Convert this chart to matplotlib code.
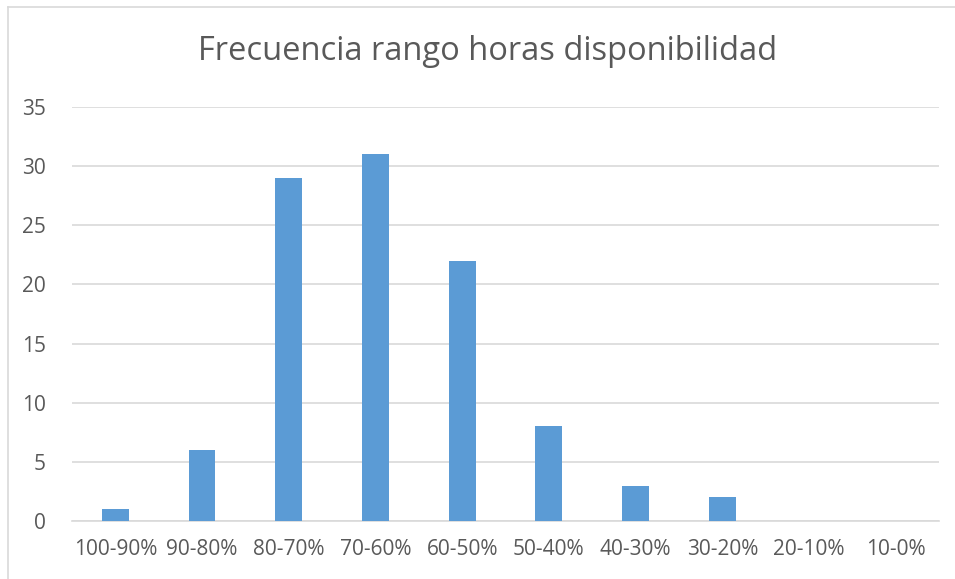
import numpy as np
import matplotlib.pyplot as plt
from matplotlib.lines import Line2D

rangos = ['100-90%', '90-80%', '80-70%', '70-60%', '60-50%',
          '50-40%', '40-30%', '30-20%', '20-10%', '10-0%']
frecuencia = [1, 6, 29, 31, 22, 8, 3, 2, 0, 0]
y_ticks = [0, 5, 10, 15, 20, 25, 30, 35]

plt.rcParams['font.family'] = ['Open Sans', 'DejaVu Sans']

fig = plt.figure(figsize=(9.55, 5.79), dpi=100)
ax = fig.add_axes([72 / 955, 1 - 521 / 579, (939 - 72) / 955, (521 - 107) / 579])

x = np.arange(len(rangos))
ax.bar(x, frecuencia, width=0.31, color='#5B9BD5', zorder=3)

ax.set_xlim(-0.5, len(rangos) - 0.5)
ax.set_ylim(0, 35)
ax.set_yticks(y_ticks)
ax.set_xticks(x)
ax.set_xticklabels(rangos)
ax.grid(axis='y', color='#D9D9D9', linewidth=1.2, zorder=0)
ax.tick_params(length=0, labelsize=15, colors='#595959')
ax.tick_params(axis='x', pad=13)
ax.tick_params(axis='y', pad=19)
for s in ['top', 'right', 'left']:
    ax.spines[s].set_visible(False)
ax.spines['bottom'].set_color('#D9D9D9')
ax.spines['bottom'].set_linewidth(1.2)

fig.text(488 / 955, 1 - 52 / 579, 'Frecuencia rango horas disponibilidad',
         ha='center', va='center', fontsize=23.5, color='#595959')

# chart frame (only left and top edges visible in the crop)
fig.add_artist(Line2D([8 / 955, 8 / 955], [0, 1 - 7 / 579], color='#D9D9D9', lw=1.2))
fig.add_artist(Line2D([8 / 955, 1], [1 - 7 / 579, 1 - 7 / 579], color='#D9D9D9', lw=1.2))

fig.savefig('out.png', dpi=100)
